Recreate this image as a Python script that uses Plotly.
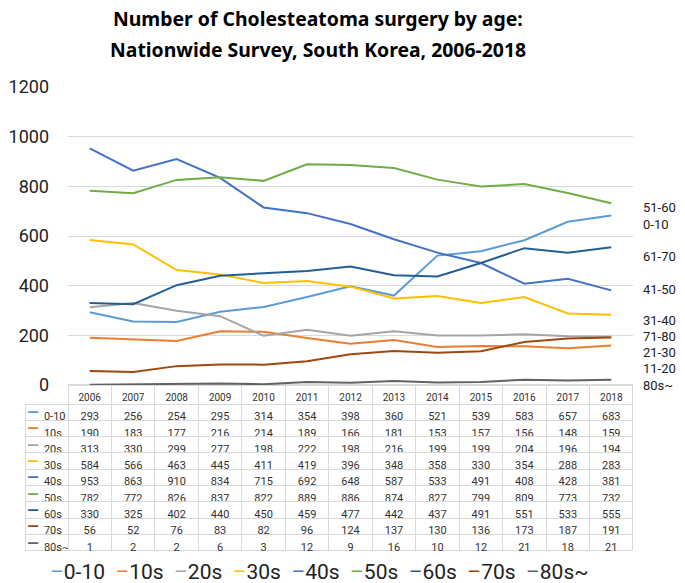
import plotly.graph_objects as go

years = [2006, 2007, 2008, 2009, 2010, 2011, 2012, 2013, 2014, 2015, 2016, 2017, 2018]
series_names = ["0-10", "10s", "20s", "30s", "40s", "50s", "60s", "70s", "80s~"]
v_0_10 = [293, 256, 254, 295, 314, 354, 398, 360, 521, 539, 583, 657, 683]
v_10s = [190, 183, 177, 216, 214, 189, 166, 181, 153, 157, 156, 148, 159]
v_20s = [313, 330, 299, 277, 198, 222, 198, 216, 199, 199, 204, 196, 194]
v_30s = [584, 566, 463, 445, 411, 419, 396, 348, 358, 330, 354, 288, 283]
v_40s = [953, 863, 910, 834, 715, 692, 648, 587, 533, 491, 408, 428, 381]
v_50s = [782, 772, 826, 837, 822, 889, 886, 874, 827, 799, 809, 773, 732]
v_60s = [330, 325, 402, 440, 450, 459, 477, 442, 437, 491, 551, 533, 555]
v_70s = [56, 52, 76, 83, 82, 96, 124, 137, 130, 136, 173, 187, 191]
v_80s = [1, 2, 2, 6, 3, 12, 9, 16, 10, 12, 21, 18, 21]
series_values = [v_0_10, v_10s, v_20s, v_30s, v_40s, v_50s, v_60s, v_70s, v_80s]
colors = ["#5B9BD5", "#ED7D31", "#A5A5A5", "#FFC000", "#4472C4",
          "#70AD47", "#255E91", "#9E480E", "#636363"]

# right-side labels
side_labels = ["51-60", "0-10", "61-70", "41-50", "31-40", "71-80", "21-30", "11-20", "80s~"]
side_label_y = [714, 646, 518, 385, 261, 197, 132, 68, 0]

# page offset (body margin) compensation
OX, OY = 8, 8
W, H = 685 - OX, 583 - OY
def px_x(p):
    return (p - OX) / W
def px_y(p):
    return 1 - (p - OY) / H

TABLE_TOP, HEADER_H, ROW_H = 385, 19, 16.3

fig = go.Figure()
xcat = [str(y) for y in years]
for name, vals, c in zip(series_names, series_values, colors):
    fig.add_trace(go.Scatter(x=xcat, y=vals, mode="lines", name=name,
                             line=dict(color=c, width=2), showlegend=False,
                             hoverinfo="skip"))

# data table
nb = "\u00a0"
first_col = [nb * 4 + n for n in series_names]
table_cols = [first_col] + [[vals[i] for vals in series_values] for i in range(len(years))]
grid = "#D9D9D9"
clear = "rgba(0,0,0,0)"
table_bottom = TABLE_TOP + HEADER_H + ROW_H * len(series_names) + 2
fig.add_trace(go.Table(
    domain=dict(x=[px_x(25), px_x(633)], y=[px_y(table_bottom), px_y(TABLE_TOP)]),
    columnwidth=[43] + [565 / 13] * 13,
    header=dict(values=[""] + [str(y) for y in years],
                fill_color=[clear] + ["white"] * 13,
                line=dict(color=[clear] + [grid] * 13, width=1),
                font=dict(family="Roboto", size=10, color="#333333"),
                align="center", height=HEADER_H),
    cells=dict(values=table_cols,
               fill_color="white",
               line=dict(color=grid, width=1),
               font=dict(family="Roboto", size=11, color="#333333"),
               align=["left"] + ["center"] * 13, height=ROW_H),
))

annotations = []
# colored key dashes in table label column
for i, c in enumerate(colors):
    yc = TABLE_TOP + HEADER_H + ROW_H * (i + 0.5)
    annotations.append(dict(text="<b>—</b>", x=px_x(26), y=px_y(yc),
                            xref="paper", yref="paper", showarrow=False, xanchor="left", yanchor="middle",
                            width=12, borderpad=0,
                            font=dict(family="Roboto", size=15, color=c)))
# title
annotations.append(dict(text="<b>Number of Cholesteatoma surgery by age:</b>", x=px_x(318), y=px_y(18),
                        xref="paper", yref="paper", showarrow=False, xanchor="center", yanchor="middle",
                        borderpad=0,
                        font=dict(family="Noto Sans", size=19.4, color="black")))
annotations.append(dict(text="<b>Nationwide Survey, South Korea, 2006-2018</b>", x=px_x(318), y=px_y(50),
                        xref="paper", yref="paper", showarrow=False, xanchor="center", yanchor="middle",
                        borderpad=0,
                        font=dict(family="Noto Sans", size=19.4, color="black")))
# side labels
for t, yv in zip(side_labels, side_label_y):
    annotations.append(dict(text=t, x=px_x(641), y=yv, xref="paper", yref="y", showarrow=False,
                            xanchor="left", yanchor="middle",
                            font=dict(family="Roboto", size=13, color="#222222")))
# legend
sp = "\u00a0\u00a0"
legend_text = sp.join(f"<span style='color:{c}'>–</span>{n}" for n, c in zip(series_names, colors))
annotations.append(dict(text=legend_text, x=px_x(319), y=px_y(572), xref="paper", yref="paper",
                        showarrow=False, xanchor="center", yanchor="middle",
                        font=dict(family="Roboto", size=21, color="#222222")))

fig.update_layout(
    width=W, height=H,
    margin=dict(l=0, r=0, t=0, b=0, pad=0, autoexpand=False),
    paper_bgcolor="white", plot_bgcolor="white",
    xaxis=dict(type="category", range=[-0.5, 12.5], domain=[px_x(68), px_x(633)],
               showticklabels=False, showgrid=False, zeroline=False, showline=False, ticks="",
               automargin=False),
    yaxis=dict(range=[0, 1200], domain=[px_y(385), px_y(87)], dtick=200,
               showgrid=True, gridcolor=grid, gridwidth=1, zeroline=True, zerolinecolor=grid,
               showline=False, ticks="", ticklabelstandoff=18, automargin=False,
               tickfont=dict(family="Roboto", size=18, color="#222222")),
    annotations=annotations,
    showlegend=False,
)

fig.write_html("out.html")
